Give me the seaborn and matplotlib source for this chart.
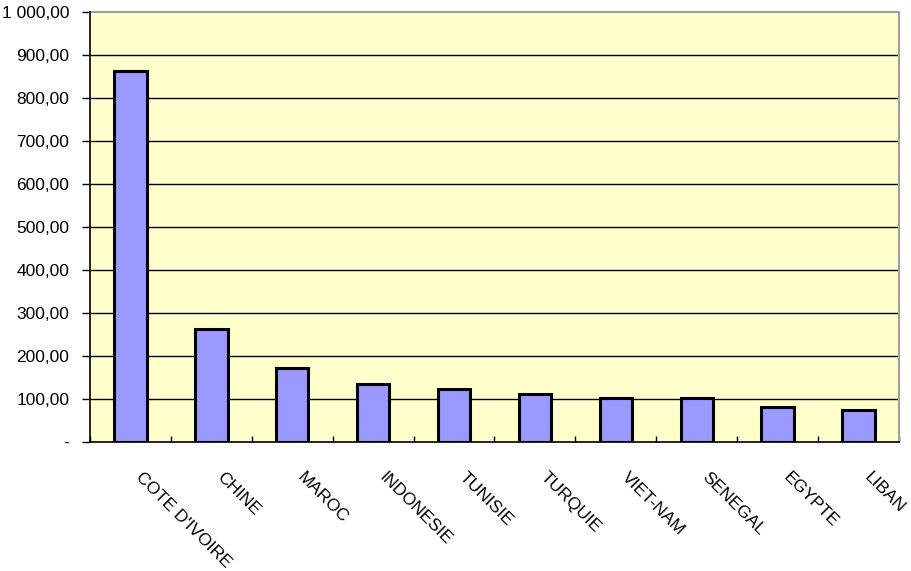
import numpy as np
import pandas as pd
import matplotlib
matplotlib.use("Agg")
import matplotlib.pyplot as plt
from matplotlib.ticker import FixedLocator, FuncFormatter
from matplotlib.transforms import ScaledTranslation
import seaborn as sns

countries = ["COTE D'IVOIRE", "CHINE", "MAROC", "INDONESIE", "TUNISIE",
             "TURQUIE", "VIET-NAM", "SENEGAL", "EGYPTE", "LIBAN"]
values = [863, 262, 171, 134, 122, 111, 101, 101, 81, 74]

df = pd.DataFrame({"pays": countries, "valeur": values})

sns.set_theme(style="white")
plt.rcParams["font.family"] = ["Liberation Sans", "DejaVu Sans"]

fig = plt.figure(figsize=(9.11, 5.71), dpi=100)
ax = fig.add_axes([90 / 911, 1 - 441.7 / 571, 809 / 911, 430 / 571])

sns.barplot(data=df, x="pays", y="valeur", ax=ax, color="#9999FF",
            saturation=1, width=0.4, edgecolor="black", linewidth=2.2, zorder=3)

ax.set_facecolor("#FFFFCC")
ax.set_xlim(-0.5, len(countries) - 0.5)
ax.set_ylim(0, 1000)
ax.set_xlabel("")
ax.set_ylabel("")

# y axis: french number format, '-' for zero
def fr_fmt(v, pos):
    if v == 0:
        return "-"
    return f"{v:,.2f}".replace(",", " ").replace(".", ",")

ax.yaxis.set_major_locator(FixedLocator(np.arange(0, 1001, 100)))
ax.yaxis.set_major_formatter(FuncFormatter(fr_fmt))
for y in np.arange(100, 1000, 100):
    ax.axhline(y, color="black", linewidth=1.0, zorder=1)

ax.tick_params(axis="y", which="major", left=True, direction="out", length=6,
               width=1, color="black", labelsize=12.5, pad=9, labelcolor="black")

# x axis: ticks at category centers and boundaries
ax.set_xticks(np.arange(len(countries)))
ax.set_xticklabels(countries, rotation=-45, ha="left", va="center",
                   rotation_mode="anchor", fontsize=12.5, color="black")
ax.set_xticks(np.arange(-0.5, len(countries), 1.0), minor=True)
ax.tick_params(axis="x", which="major", bottom=True, direction="in", length=4,
               width=1, color="black", pad=24)
ax.tick_params(axis="x", which="minor", bottom=True, direction="in", length=4,
               width=1, color="black")
offset = ScaledTranslation(8 / 100, 0, fig.dpi_scale_trans)
for lbl in ax.get_xticklabels():
    lbl.set_transform(lbl.get_transform() + offset)

for side in ["left", "bottom"]:
    ax.spines[side].set_color("black")
    ax.spines[side].set_linewidth(1.2)
    ax.spines[side].set_zorder(4)
for side in ["top", "right"]:
    ax.spines[side].set_color("#A0A0A0")
    ax.spines[side].set_linewidth(1.5)
    ax.spines[side].set_visible(True)

fig.savefig("out.png", dpi=100, facecolor="white")
